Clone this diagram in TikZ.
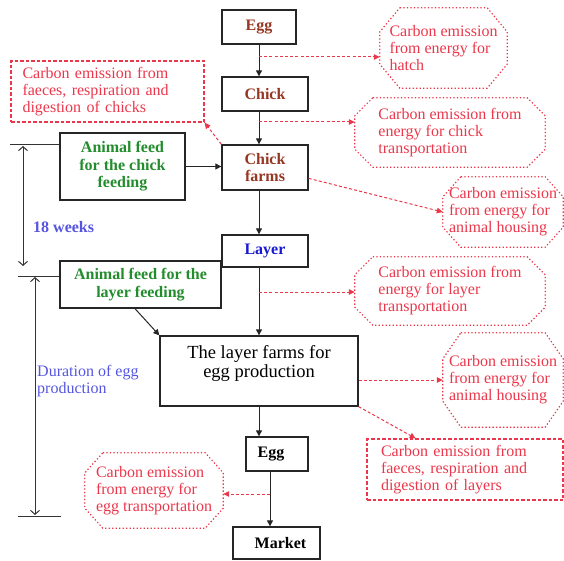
\documentclass[tikz,border=0pt]{standalone}
\usepackage{fontspec}
\setmainfont{Liberation Serif}
\usetikzlibrary{arrows.meta,calc}
\definecolor{cbrown}{RGB}{150,55,35}
\definecolor{cgreen}{RGB}{35,140,45}
\definecolor{cblue}{RGB}{25,25,210}
\definecolor{clabel}{RGB}{85,85,225}
\definecolor{cred}{RGB}{235,55,75}
\newcommand\octagonpath[3]{%
  \draw[reddot] ($(#1.north west)+(#2,0)$) -- ($(#1.north east)+(-#2,0)$)
    -- ($(#1.north east)+(0,#3)$) -- ($(#1.south east)+(0,-#3)$)
    -- ($(#1.south east)+(-#2,0)$) -- ($(#1.south west)+(#2,0)$)
    -- ($(#1.south west)+(0,-#3)$) -- ($(#1.north west)+(0,#3)$) -- cycle;}
\begin{document}
\begin{tikzpicture}[x=1pt,y=-1pt,
  box/.style={draw=black!85, line width=1.3pt, inner sep=0pt,
    font=\fontsize{16}{17.5}\selectfont\bfseries, align=center},
  arr/.style={line width=1pt, draw=black!85, -{Triangle[length=6pt,width=6pt]}},
  rarr/.style={line width=1pt, draw=cred, dash pattern=on 3pt off 2.2pt,
    -{Triangle[length=6pt,width=5.5pt]}},
  rbox/.style={draw=cred, line width=1.2pt, dash pattern=on 3.5pt off 2pt,
    text=cred, font=\fontsize{16}{17}\selectfont, align=left, inner ysep=3pt},
  roct/.style={draw=none, text=cred, font=\fontsize{16}{17}\selectfont,
    align=left, inner sep=0pt},
  reddot/.style={draw=cred, line width=1.2pt, dash pattern=on 1.3pt off 2.2pt},
  tline/.style={line width=1pt, draw=black!80},
  tarr/.style={line width=1pt, draw=black!80,
    {Straight Barb[length=4pt,width=9pt]}-{Straight Barb[length=4pt,width=9pt]}},
  lbl/.style={text=clabel, font=\fontsize{16}{17}\selectfont, inner sep=0pt, anchor=west, align=left}
]
\path[use as bounding box] (0,0) rectangle (564,561);

% main boxes
\node[box, text=cbrown, minimum width=74pt, minimum height=34pt] (egg1) at (259,27) {Egg};
\node[box, text=cbrown, minimum width=86pt, minimum height=34pt] (chick) at (265,94) {Chick};
\node[box, text=cbrown, minimum width=86pt, minimum height=45pt] (chickfarms) at (265,167.5) {Chick\\farms};
\node[box, text=cblue, minimum width=86pt, minimum height=32pt] (layer) at (265,251) {Layer};
\node[box, text=cgreen, minimum width=125pt, minimum height=67pt] (feedchick) at (122.5,166.5) {Animal feed\\for the chick\\feeding};
\node[box, text=cgreen, minimum width=161pt, minimum height=47pt] (feedlayer) at (140.5,284.5) {Animal feed for the\\layer feeding};
\node[box, font=\fontsize{18.5}{19.5}\selectfont, minimum width=198pt, minimum height=70pt] (layerfarms) at (259,371) {The layer farms for\\egg production\\\mbox{}};
\node[box, minimum width=62pt, minimum height=34pt] (egg2) at (277,454) {\hspace*{-12pt}Egg};
\node[box, minimum width=87pt, minimum height=32pt] (market) at (276.5,543) {\hspace*{8pt}Market};

% red emission nodes
\node[rbox, text width=170pt, inner xsep=11.5pt, minimum height=61pt] (faeceschick) at (107.5,91.5) {Carbon emission from\\faeces, respiration and\\digestion of chicks};
\node[rbox, text width=168pt, inner xsep=14pt, minimum height=61pt] (faeceslayer) at (465,469.5) {Carbon emission from\\faeces, respiration and\\digestion of layers};
\node[roct, minimum width=127pt, minimum height=80pt] (hatch) at (443.5,48) {Carbon emission\\from energy for\\hatch};
\node[roct, minimum width=190pt, minimum height=69pt] (chicktrans) at (450,132.5) {Carbon emission from\\energy for chick\\transportation};
\node[roct, minimum width=120pt, minimum height=70pt] (house1) at (503,212) {Carbon emission\\from energy for\\animal housing};
\node[roct, minimum width=190pt, minimum height=68pt] (layertrans) at (450,291) {Carbon emission from\\energy for layer\\transportation};
\node[roct, minimum width=120pt, minimum height=94pt] (house2) at (503,380) {Carbon emission\\from energy for\\animal housing};
\node[roct, minimum width=138pt, minimum height=75pt] (eggtrans) at (154,490.5) {Carbon emission\\from energy for\\egg transportation};
\octagonpath{hatch}{20}{24}
\octagonpath{chicktrans}{18}{18}
\octagonpath{house1}{18}{20}
\octagonpath{layertrans}{18}{18}
\octagonpath{house2}{18}{26}
\octagonpath{eggtrans}{18}{20}

% main flow
\draw[arr] (egg1.south) -- (egg1.south |- chick.north);
\draw[arr] (egg1.south |- chick.south) -- (egg1.south |- chickfarms.north);
\draw[arr] (egg1.south |- chickfarms.south) -- (egg1.south |- layer.north);
\draw[arr] (egg1.south |- layer.south) -- (layerfarms.north);
\draw[arr] (layerfarms.south) -- (layerfarms.south |- egg2.north);
\coordinate (e2out) at ($(egg2.south)+(-7,0)$);
\draw[arr] (e2out) -- (e2out |- market.north);
\draw[arr] (feedchick.east) -- (feedchick.east -| chickfarms.west);
\coordinate (flout) at ($(feedlayer.south west)!0.466!(feedlayer.south east)$);
\draw[arr] (flout) -- (layerfarms.north west);

% emission arrows
\coordinate (h1) at (259,57);
\draw[rarr] (h1) -- (h1 -| hatch.west);
\coordinate (h2) at (259,122);
\draw[rarr] (h2) -- (h2 -| chicktrans.west);
\draw[rarr] (chickfarms.north west) -- (faeceschick.south east);
\draw[rarr] (chickfarms.-14) -- (house1.west);
\coordinate (h3) at (259,292);
\draw[rarr] (h3) -- (h3 -| layertrans.west);
\draw[rarr] (house2.west -| layerfarms.east) -- (house2.west);
\coordinate (fltop) at ($(faeceslayer.north west)!0.25!(faeceslayer.north east)$);
\draw[rarr] (layerfarms.south east) -- (fltop);
\coordinate (h4) at (270,494);
\draw[rarr] (h4) -- (h4 -| eggtrans.east);

% timeline
\coordinate (tA) at (10,145);
\draw[tline] (tA) -- (tA -| feedchick.west);
\coordinate (tB) at (18,276);
\draw[tline] (tB) -- (tB -| feedlayer.west);
\coordinate (tC) at (18,516);
\coordinate (tCe) at (61,516);
\draw[tline] (tC) -- (tCe);
\coordinate (w1) at (23,146);
\coordinate (w2) at (23,266);
\draw[tarr] (w1) -- (w2);
\coordinate (d1) at (35,277);
\coordinate (d2) at (35,515);
\draw[tarr] (d1) -- (d2);
\node[lbl, font=\fontsize{16}{17}\selectfont\bfseries] (weeks) at (33,227) {18 weeks};
\node[lbl] (dur) at (37,381) {Duration of egg\\production};
\end{tikzpicture}
\end{document}
